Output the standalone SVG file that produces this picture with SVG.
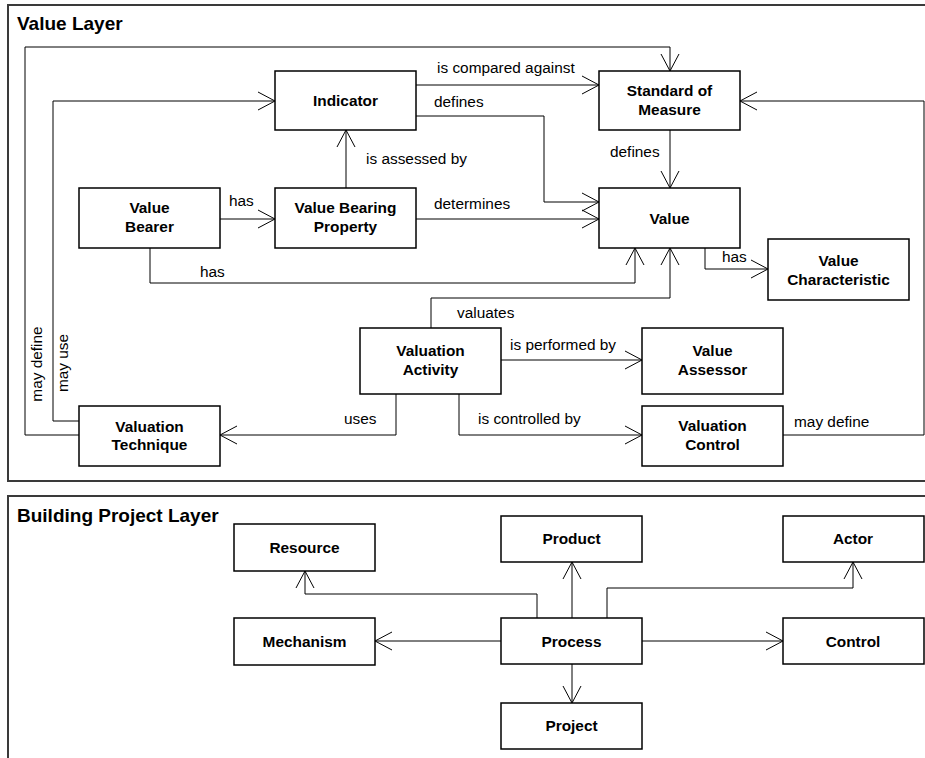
<svg xmlns="http://www.w3.org/2000/svg" width="925" height="758" viewBox="0 0 925 758">
  <style>
    .frame { fill: none; stroke: #3a3a3a; stroke-width: 2; }
    .title { font-family: "Liberation Sans", Arial, sans-serif; font-size: 19px; font-weight: bold; fill: #000; }
    .box { fill: #fff; stroke: #000; stroke-width: 1.5; }
    .nl { font-family: "Liberation Sans", Arial, sans-serif; font-size: 15.4px; font-weight: bold; fill: #000; text-anchor: middle; }
    .el { font-family: "Liberation Sans", Arial, sans-serif; font-size: 15.4px; fill: #000; }
    .conn path { fill: none; stroke: #000; stroke-width: 1; marker-end: url(#open); }
  </style>
  <defs>
    <marker id="open" markerUnits="userSpaceOnUse" markerWidth="20" markerHeight="20" refX="18" refY="10" orient="auto">
      <path d="M1,1 L18,10 L1,19" fill="none" stroke="#000" stroke-width="1"/>
    </marker>
  </defs>

  <rect width="925" height="758" fill="#fff"/>

  <!-- layer frames -->
  <rect class="frame" x="8" y="5" width="930" height="476"/>
  <text class="title" x="17" y="30">Value Layer</text>
  <rect class="frame" x="8" y="496" width="930" height="280"/>
  <text class="title" x="17" y="522">Building Project Layer</text>

  <!-- connectors -->
  <g id="connectors" class="conn">
    <path d="M79,435 H25 V47 H670 V71"/>
    <path d="M79,421 H53 V101 H275"/>
    <path d="M416,85 H599"/>
    <path d="M416,116 H544 V202 H599"/>
    <path d="M346,188 V130"/>
    <path d="M220,219 H275"/>
    <path d="M416,219 H599"/>
    <path d="M670,130 V188"/>
    <path d="M150,248 V283 H635 V248"/>
    <path d="M431,328 V298 H670 V248"/>
    <path d="M705,248 V269 H768"/>
    <path d="M501,360 H642"/>
    <path d="M459,394 V435 H642"/>
    <path d="M396,394 V435 H220"/>
    <path d="M783,435 H924 V101 H740"/>

    <path d="M537,618 V594 H305 V571"/>
    <path d="M572,618 V562"/>
    <path d="M607,618 V588 H853 V562"/>
    <path d="M501,641 H375"/>
    <path d="M642,641 H783"/>
    <path d="M572,664 V703"/>
  </g>

  <!-- connector labels -->
  <g id="labels">
    <text class="el" x="437" y="73">is compared against</text>
    <text class="el" x="434" y="107">defines</text>
    <text class="el" x="366" y="163.5">is assessed by</text>
    <text class="el" x="229" y="206">has</text>
    <text class="el" x="434" y="209">determines</text>
    <text class="el" x="610" y="157">defines</text>
    <text class="el" x="200" y="277">has</text>
    <text class="el" x="457" y="318">valuates</text>
    <text class="el" x="722" y="262">has</text>
    <text class="el" x="510" y="350">is performed by</text>
    <text class="el" x="478" y="424">is controlled by</text>
    <text class="el" x="344" y="424">uses</text>
    <text class="el" x="794" y="427">may define</text>
    <text class="el" text-anchor="middle" transform="translate(42,364) rotate(-90)">may define</text>
    <text class="el" text-anchor="middle" transform="translate(68,363) rotate(-90)">may use</text>
  </g>

  <!-- value layer nodes -->
  <g id="indicator">
    <rect class="box" x="275" y="71" width="141" height="59"/>
    <text class="nl" x="345.5" y="106">Indicator</text>
  </g>
  <g id="standard-of-measure">
    <rect class="box" x="599" y="71" width="141" height="59"/>
    <text class="nl" x="669.5" y="96">Standard of</text>
    <text class="nl" x="669.5" y="115">Measure</text>
  </g>
  <g id="value-bearer">
    <rect class="box" x="79" y="188" width="141" height="60"/>
    <text class="nl" x="149.5" y="213">Value</text>
    <text class="nl" x="149.5" y="232">Bearer</text>
  </g>
  <g id="value-bearing-property">
    <rect class="box" x="275" y="188" width="141" height="60"/>
    <text class="nl" x="345.5" y="213">Value Bearing</text>
    <text class="nl" x="345.5" y="232">Property</text>
  </g>
  <g id="value">
    <rect class="box" x="599" y="188" width="141" height="60"/>
    <text class="nl" x="669.5" y="223.5">Value</text>
  </g>
  <g id="value-characteristic">
    <rect class="box" x="768" y="239" width="141" height="61"/>
    <text class="nl" x="838.5" y="266">Value</text>
    <text class="nl" x="838.5" y="284.5">Characteristic</text>
  </g>
  <g id="valuation-activity">
    <rect class="box" x="360" y="328" width="141" height="66"/>
    <text class="nl" x="430.5" y="356">Valuation</text>
    <text class="nl" x="430.5" y="375">Activity</text>
  </g>
  <g id="value-assessor">
    <rect class="box" x="642" y="328" width="141" height="66"/>
    <text class="nl" x="712.5" y="356">Value</text>
    <text class="nl" x="712.5" y="375">Assessor</text>
  </g>
  <g id="valuation-technique">
    <rect class="box" x="79" y="406" width="141" height="60"/>
    <text class="nl" x="149.5" y="431.5">Valuation</text>
    <text class="nl" x="149.5" y="450">Technique</text>
  </g>
  <g id="valuation-control">
    <rect class="box" x="642" y="406" width="141" height="60"/>
    <text class="nl" x="712.5" y="431">Valuation</text>
    <text class="nl" x="712.5" y="450">Control</text>
  </g>

  <!-- building project layer nodes -->
  <g id="resource">
    <rect class="box" x="234" y="524" width="141" height="47"/>
    <text class="nl" x="304.5" y="553">Resource</text>
  </g>
  <g id="product">
    <rect class="box" x="501" y="516" width="141" height="46"/>
    <text class="nl" x="571.5" y="544">Product</text>
  </g>
  <g id="actor">
    <rect class="box" x="783" y="516" width="141" height="46"/>
    <text class="nl" x="853" y="544">Actor</text>
  </g>
  <g id="mechanism">
    <rect class="box" x="234" y="618" width="141" height="47"/>
    <text class="nl" x="304.5" y="647">Mechanism</text>
  </g>
  <g id="process">
    <rect class="box" x="501" y="618" width="141" height="46"/>
    <text class="nl" x="571.5" y="647">Process</text>
  </g>
  <g id="control">
    <rect class="box" x="783" y="618" width="141" height="46"/>
    <text class="nl" x="853" y="647">Control</text>
  </g>
  <g id="project">
    <rect class="box" x="501" y="703" width="141" height="46"/>
    <text class="nl" x="571.5" y="731">Project</text>
  </g>
</svg>
